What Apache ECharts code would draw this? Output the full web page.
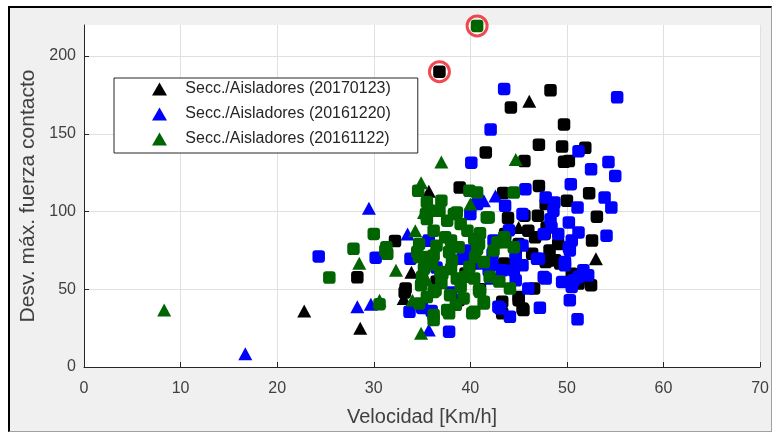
<!DOCTYPE html>
<html><head><meta charset="utf-8">
<script src="https://cdn.jsdelivr.net/npm/echarts@6/dist/echarts.min.js"></script>
<style>
html,body{margin:0;padding:0;background:#fff;}
#frame{position:absolute;left:8px;top:6px;width:761px;height:423px;background:#f0f0f0;border-top:2px solid #000;border-left:2px solid #000;border-right:1px solid #a0a0a0;border-bottom:1px solid #a0a0a0;}
#chart{position:absolute;left:0;top:0;width:772px;height:432px;}
</style></head>
<body>
<div id="frame"></div>
<div id="chart"></div>
<script>
const xTicks = [0,10,20,30,40,50,60,70];
const yTicks = [0,50,100,150,200];
const names = ['Secc./Aisladores (20170123)','Secc./Aisladores (20161220)','Secc./Aisladores (20161122)'];

const blackTri = [[22.8,36],[28.6,25],[46.1,171],[35.7,113],[53.0,69.6],[45.0,89.8],[33.9,61],[33.1,44.1]];
const blackSq = [[36.8,190],[28.3,57.7],[32.2,81],[48.3,178],[44.2,167],[49.7,156],[47.1,143],[49.5,141.8],[51.9,141],[41.6,138],[45.6,132.5],[49.7,132],[50.2,132.5],[38.9,115.4],[47.1,116.5],[52.3,111.8],[43.4,112],[50,107],[53.1,96.7],[52.5,52.6],[43.9,95.8],[45.6,97.3],[47.0,97.3],[46.0,87.7],[47.7,85.6],[47.9,89.8],[49.1,79.2],[52.6,81.3],[45.0,79.2],[43.6,81.3],[46.4,72.8],[47.8,67.5],[48.8,68.6],[43.5,66.5],[51.2,55.8],[45.0,43],[45.5,36.6],[43.3,41.9],[43.3,34.5],[47.8,104.8],[43.6,85.6],[46.7,83.4],[44.7,72.8],[43.6,64.3],[48.1,68.6],[49.3,66.5],[51.2,53.7],[46.6,50.5],[45.4,37.7],[33.3,50.5],[38.8,43],[39.5,60.1],[40.2,66.5],[33.2,48],[39.3,73.9],[45,45],[36.5,55],[41,50],[50.5,60],[48.2,75]];

const blueTri = [[16.7,8.5],[29.5,102.2],[28.3,38.7],[29.7,40.4],[33.5,85.6],[35.2,81.3],[41.4,106.9],[42.6,110],[35.7,23.8]];
const blueSq = [[24.3,71.1],[30.2,70.3],[33.8,69.6],[33.7,35.5],[43.5,178.9],[55.2,173.5],[42.1,152.7],[40.1,131.4],[51.2,138.8],[52.5,127.2],[54.3,131.8],[55.0,122.9],[50.4,117.6],[45.7,114.4],[47.8,109],[48.7,105.8],[51.1,102.6],[53.9,109],[54.6,102.6],[43.6,103.7],[48.6,100.5],[48.4,89.8],[50.2,93],[51.2,86.6],[47.6,85.6],[50.5,81.3],[54.1,84.5],[45.4,78.1],[46.9,69.6],[49.8,67.5],[51.7,62.2],[42.3,65.4],[43.3,62.2],[44.7,55.8],[46.0,50.5],[49.5,54.7],[50.7,55.8],[51.9,59],[50.3,43],[47.2,38.1],[51.1,30.7],[44.1,32.3],[37.8,22.7],[42.9,38.7],[49.1,85.6],[50.2,77],[50.3,75],[47.1,69.6],[49.8,65.4],[52.2,59],[47.8,56.9],[50.5,51.5],[45.4,65.4],[39.9,70.7],[42.1,56.9],[44.5,62.2],[43.1,37.7],[40.7,104.8],[40,98.4],[35.7,81.3],[42.4,81.3],[45.4,98.4],[41.9,62.2],[41.2,66.5],[47.6,57.9],[51.2,57.9],[39.9,75],[39.2,69.6],[42.3,72.8],[48.3,95],[44,88],[36.5,64],[38,48],[35,38],[36,36],[44.7,70]];

const greenTri = [[8.3,36.6],[28.5,66.8],[32.3,62.2],[30.6,43],[34.3,87.7],[34.9,118.6],[35.2,99.4],[34,43],[34.9,21.7],[37.0,131.8],[44.7,133.5],[40,104.8],[35.5,56]];
const greenSq = [[40.7,219.4],[25.4,57.5],[27.9,76],[30,85.6],[31.3,77],[31.4,72.8],[30.6,40.4],[34.6,113.3],[39.9,113.3],[40.7,112.2],[44.5,112.2],[41.7,96.2],[35.9,100.5],[36.8,100.5],[38.6,99.4],[35.5,95.2],[37.6,94.1],[36.2,87.7],[39.7,87.7],[40.4,82.4],[42.8,80.3],[38,81.3],[43.5,83.4],[44.5,77],[34.5,73.9],[36.2,71.8],[37.8,73.9],[40.7,76],[41.4,67.5],[42.4,75],[35.2,63.3],[36.9,61.1],[38.6,56.9],[40.4,56.9],[34.9,52.6],[36.2,48.3],[37.9,46.2],[39.3,44.1],[41,48.3],[41.4,41.9],[37.6,36.6],[40.4,35.5],[36.2,33.4],[34.7,40.9],[44.1,50.5],[36.2,30.2],[31.2,75],[35.4,98.4],[38.3,98.4],[41.9,96.2],[43.5,80.3],[37.8,34.5],[40.2,34.5],[41.4,40.9],[40.9,49.4],[39,51.5],[36.4,49.4],[35,57.9],[35.7,70.7],[38.1,68.6],[39.9,64.3],[37.1,60.1],[38.8,77],[40.5,70.7],[40.9,79.2],[37.4,83.4],[34.7,79.2],[34.7,70.7],[36,66],[38,63],[39.5,58],[37,54],[35.5,45],[38.5,40],[42,58],[43,55],[36.5,78],[39,92],[37,107],[35.5,106],[41,86]];

const circled = [[36.8,190],[40.7,219.4]];

const colors = ['#000000','#0000ff','#006400'];
const font = 'Liberation Sans, Arial, Helvetica, sans-serif';

function sq(data, color){
  return {type:'scatter', data:data, symbol:'roundRect', symbolSize:12.5, itemStyle:{color:color, opacity:1}, silent:true, clip:false};
}
function tri(name, data, color){
  return {name:name, type:'scatter', data:data, symbol:'triangle', symbolSize:[14,13], itemStyle:{color:color, opacity:1}, silent:true, clip:false};
}

const chart = echarts.init(document.getElementById('chart'), null, {renderer:'canvas'});
const gridColor = '#e0e0e0';
chart.setOption({
  animation:false,
  backgroundColor:'transparent',
  textStyle:{fontFamily:font},
  grid:{left:84, right:10, top:25, bottom:65, show:true, backgroundColor:'#ffffff', borderWidth:0},
  legend:{
    show:true, orient:'vertical', left:114, top:78,
    data: names.map((n,i)=>({name:n, icon:'triangle', itemStyle:{color:colors[i]}})),
    itemWidth:15, itemHeight:13, itemGap:9,
    padding:[3,27,6,38],
    backgroundColor:'#ffffff', borderColor:'#262626', borderWidth:1,
    formatter: n => '   ' + n,
    textStyle:{fontSize:16, color:'#262626', fontFamily:font}
  },
  xAxis:{
    type:'value', min:0, max:70, interval:10,
    name:'Velocidad [Km/h]', nameLocation:'middle', nameGap:40,
    nameTextStyle:{fontSize:20, color:'#404040', fontFamily:font},
    axisLine:{show:true, onZero:false, lineStyle:{color:'#262626', width:1}},
    axisTick:{show:true, inside:true, length:5, lineStyle:{color:'#262626'}},
    axisLabel:{fontSize:16, color:'#404040', margin:14, fontFamily:font},
    splitLine:{show:true, lineStyle:{color:gridColor, width:1}}
  },
  yAxis:{
    type:'value', min:0, max:220, interval:50,
    name:'Desv. máx. fuerza contacto', nameLocation:'middle', nameGap:41,
    nameTextStyle:{fontSize:21, color:'#404040', fontFamily:font},
    axisLine:{show:true, onZero:false, lineStyle:{color:'#262626', width:1}},
    axisTick:{show:true, inside:true, length:5, lineStyle:{color:'#262626'}},
    axisLabel:{fontSize:16, color:'#404040', margin:8, fontFamily:font, showMaxLabel:false,
      formatter: v => (yTicks.indexOf(v) >= 0 ? String(v) : '')},
    splitLine:{show:true, lineStyle:{color:[gridColor,gridColor,gridColor,gridColor,gridColor,'transparent'], width:1}}
  },
  series:[
    sq(blackSq, colors[0]),
    tri(names[0], blackTri, colors[0]),
    sq(blueSq, colors[1]),
    tri(names[1], blueTri, colors[1]),
    sq(greenSq, colors[2]),
    tri(names[2], greenTri, colors[2]),
    {type:'scatter', data:circled, symbol:'circle', symbolSize:20, clip:false, silent:true,
     itemStyle:{color:'rgba(0,0,0,0)', borderColor:'#ee1c24', borderWidth:3}}
  ]
});
</script>
</body></html>
